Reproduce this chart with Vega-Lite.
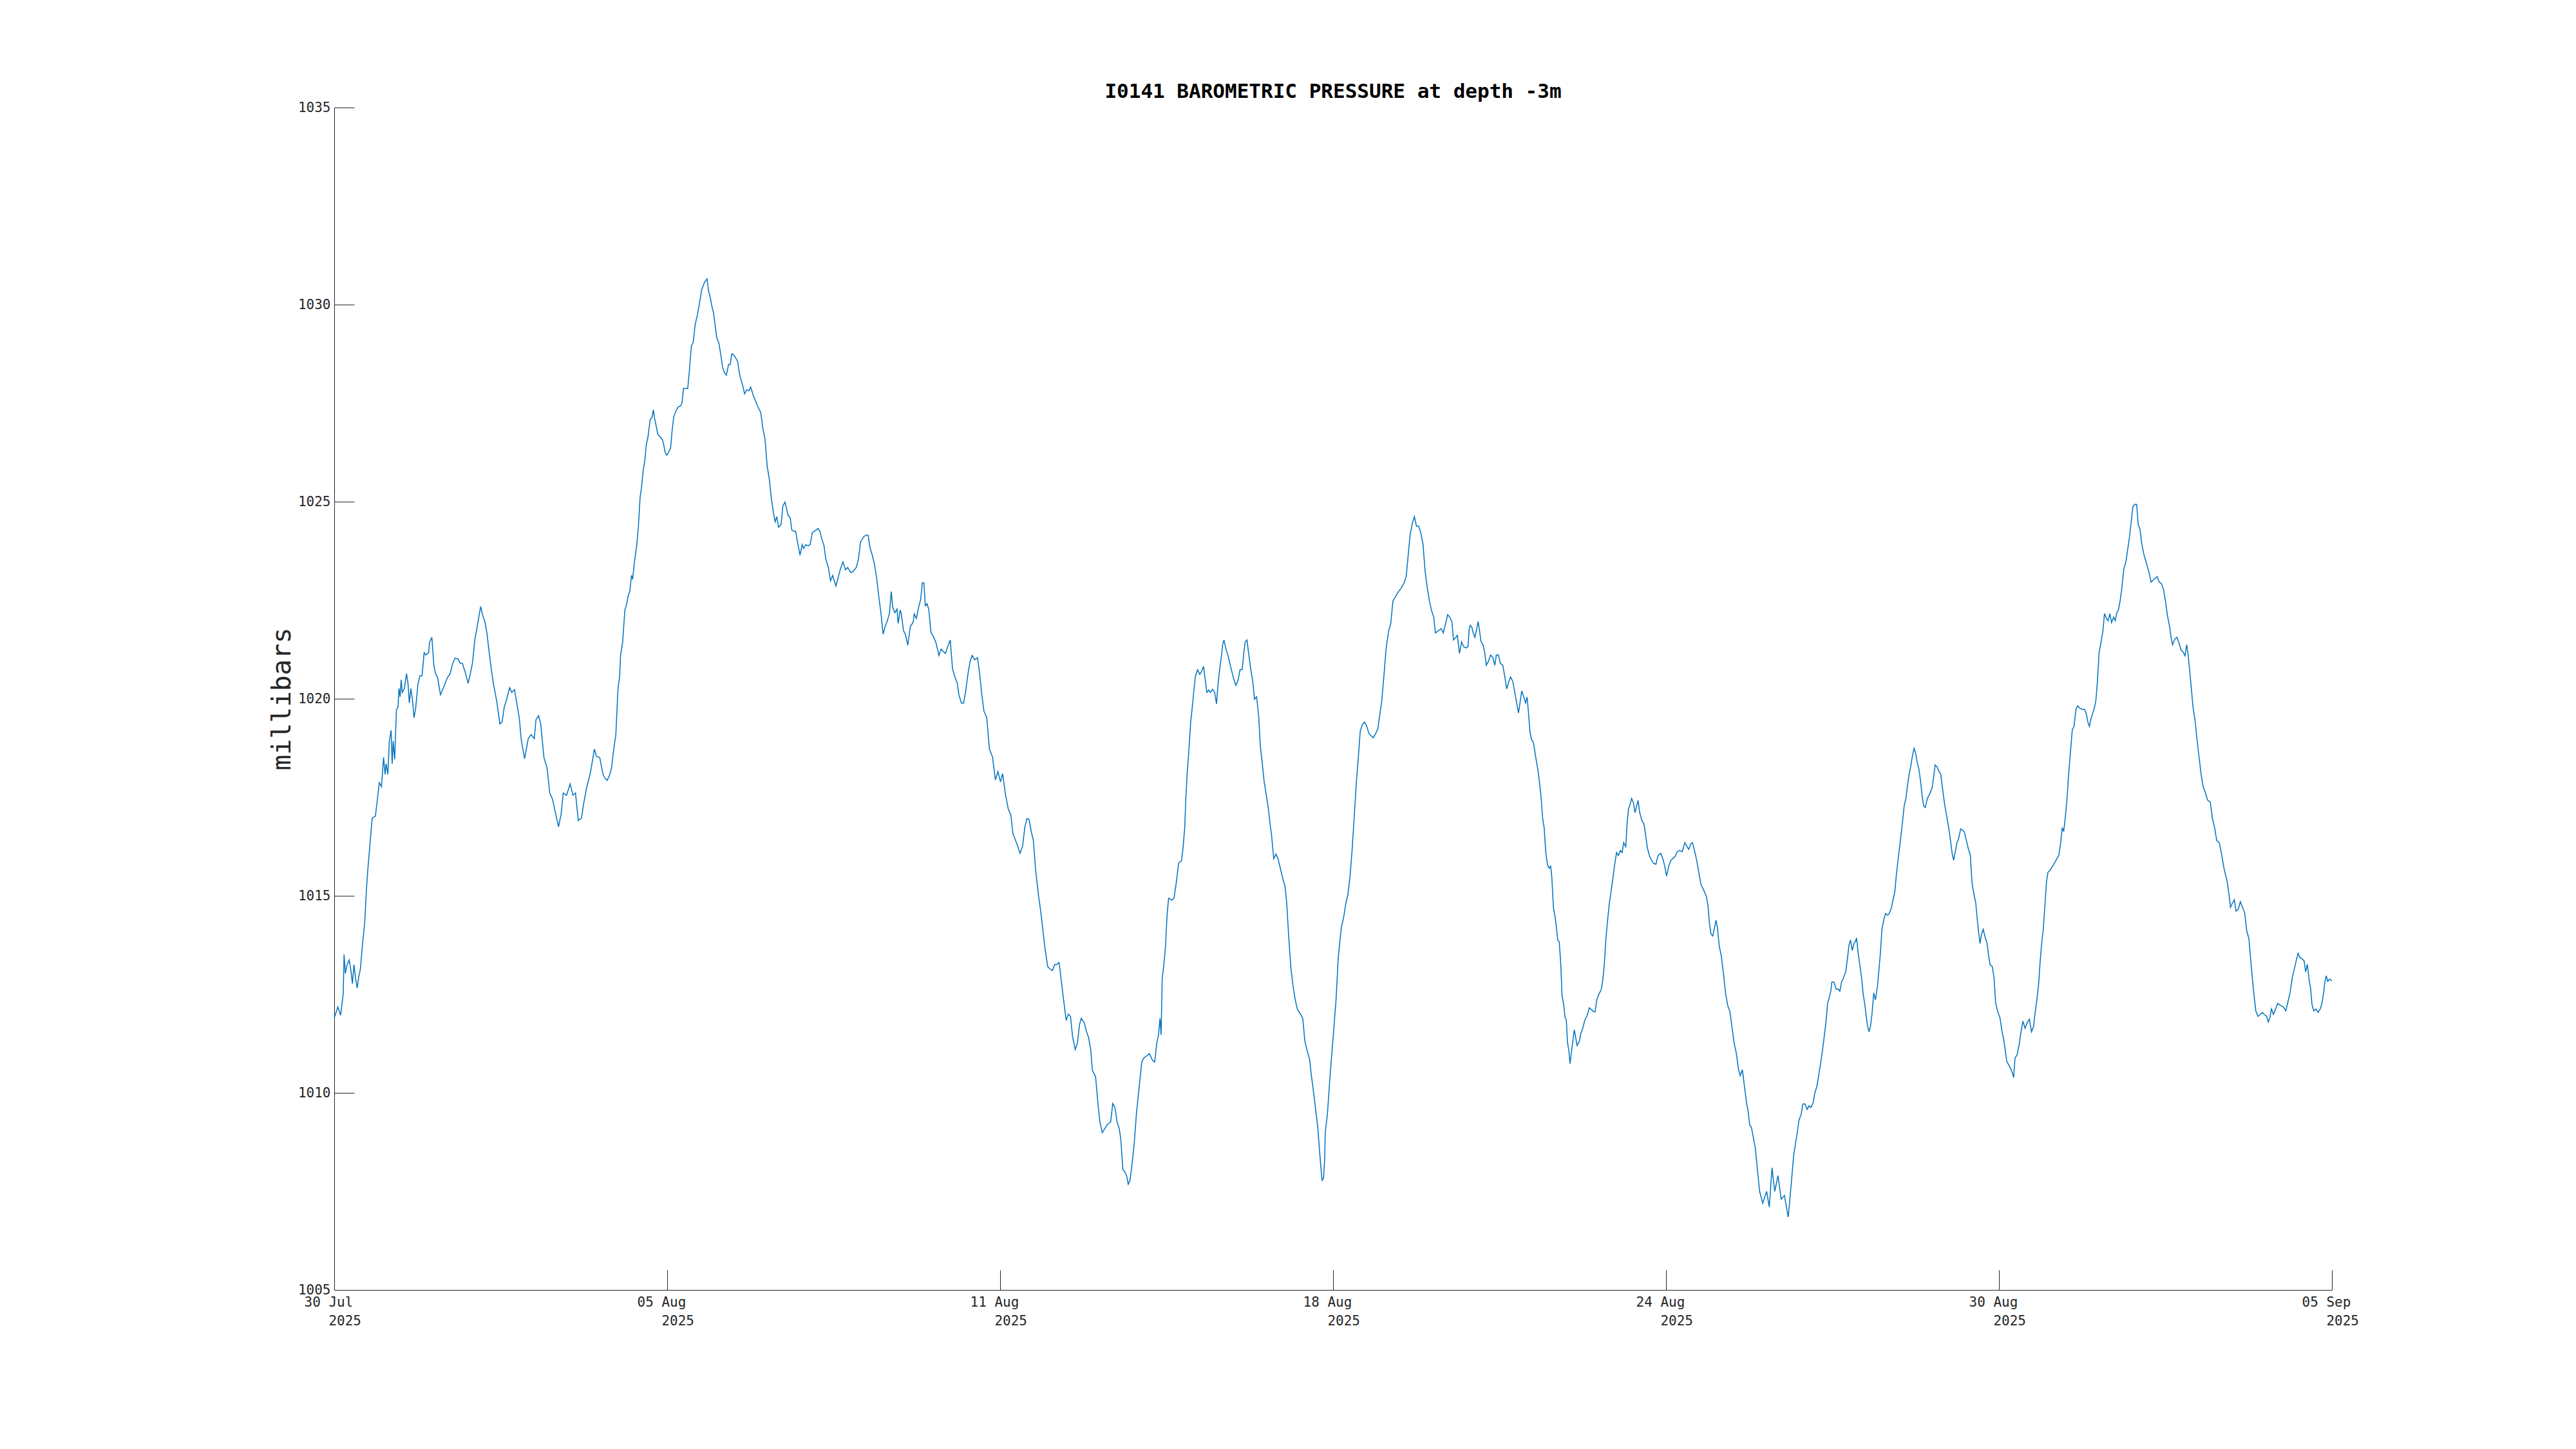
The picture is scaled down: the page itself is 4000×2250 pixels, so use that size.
{
 "$schema": "https://vega.github.io/schema/vega-lite/v6.json",
 "width": 3102,
 "height": 1836,
 "autosize": {"type": "none"},
 "padding": {"left": 519, "top": 167, "right": 379, "bottom": 247},
 "background": "white",
 "config": {"view": {"stroke": null}, "font": "DejaVu Sans Mono"},
 "title": {"text": "I0141 BAROMETRIC PRESSURE at depth -3m", "font": "DejaVu Sans Mono", "fontSize": 31, "fontWeight": "bold", "color": "#000000", "anchor": "middle", "frame": "group", "baseline": "alphabetic", "offset": -27},
 "data": {"values": [
{"t":"2025-07-30T00:00","p":1011.9},{"t":"2025-07-30T01:36","p":1012.18},{"t":"2025-07-30T02:51","p":1011.97},{"t":"2025-07-30T03:31","p":1012.29},{"t":"2025-07-30T03:59","p":1012.5},{"t":"2025-07-30T04:22","p":1013.51},{"t":"2025-07-30T04:57","p":1013.03},{"t":"2025-07-30T05:42","p":1013.25},{"t":"2025-07-30T06:40","p":1013.37},{"t":"2025-07-30T07:20","p":1013.14},{"t":"2025-07-30T08:05","p":1012.77},{"t":"2025-07-30T08:46","p":1013.25},{"t":"2025-07-30T09:26","p":1012.93},{"t":"2025-07-30T10:11","p":1012.66},{"t":"2025-07-30T10:52","p":1012.93},{"t":"2025-07-30T11:37","p":1013.14},{"t":"2025-07-30T12:35","p":1013.78},{"t":"2025-07-30T13:32","p":1014.31},{"t":"2025-07-30T14:18","p":1015.16},{"t":"2025-07-30T14:58","p":1015.69},{"t":"2025-07-30T15:55","p":1016.33},{"t":"2025-07-30T16:52","p":1016.97},{"t":"2025-07-30T18:18","p":1017.02},{"t":"2025-07-30T19:04","p":1017.39},{"t":"2025-07-30T20:01","p":1017.87},{"t":"2025-07-30T20:59","p":1017.77},{"t":"2025-07-30T21:56","p":1018.51},{"t":"2025-07-30T22:36","p":1018.08},{"t":"2025-07-30T23:04","p":1018.35},{"t":"2025-07-30T23:50","p":1018.08},
{"t":"2025-07-31T00:30","p":1018.93},{"t":"2025-07-31T01:16","p":1019.2},{"t":"2025-07-31T01:45","p":1018.35},{"t":"2025-07-31T02:13","p":1018.93},{"t":"2025-07-31T02:53","p":1018.46},{"t":"2025-07-31T03:39","p":1019.73},{"t":"2025-07-31T04:19","p":1019.78},{"t":"2025-07-31T04:48","p":1020.26},{"t":"2025-07-31T05:17","p":1020.05},{"t":"2025-07-31T05:45","p":1020.48},{"t":"2025-07-31T06:14","p":1020.16},{"t":"2025-07-31T07:11","p":1020.26},{"t":"2025-07-31T08:08","p":1020.64},{"t":"2025-07-31T08:49","p":1020.37},{"t":"2025-07-31T09:23","p":1019.89},{"t":"2025-07-31T10:03","p":1020.26},{"t":"2025-07-31T10:43","p":1020.0},{"t":"2025-07-31T11:29","p":1019.52},{"t":"2025-07-31T12:14","p":1019.78},{"t":"2025-07-31T13:12","p":1020.37},{"t":"2025-07-31T14:04","p":1020.58},{"t":"2025-07-31T15:01","p":1020.58},{"t":"2025-07-31T15:58","p":1021.17},{"t":"2025-07-31T16:44","p":1021.11},{"t":"2025-07-31T17:58","p":1021.17},{"t":"2025-07-31T18:21","p":1021.43},{"t":"2025-07-31T19:24","p":1021.56},{"t":"2025-07-31T20:16","p":1020.85},{"t":"2025-07-31T21:01","p":1020.64},{"t":"2025-07-31T21:59","p":1020.53},{"t":"2025-07-31T23:13","p":1020.1},
{"t":"2025-08-01T00:50","p":1020.32},{"t":"2025-08-01T02:16","p":1020.53},{"t":"2025-08-01T03:31","p":1020.64},{"t":"2025-08-01T04:40","p":1020.9},{"t":"2025-08-01T05:48","p":1021.03},{"t":"2025-08-01T07:02","p":1021.01},{"t":"2025-08-01T08:00","p":1020.9},{"t":"2025-08-01T08:57","p":1020.9},{"t":"2025-08-01T10:23","p":1020.64},{"t":"2025-08-01T11:32","p":1020.39},{"t":"2025-08-01T12:17","p":1020.58},{"t":"2025-08-01T13:26","p":1020.9},{"t":"2025-08-01T14:29","p":1021.49},{"t":"2025-08-01T15:38","p":1021.86},{"t":"2025-08-01T17:04","p":1022.34},{"t":"2025-08-01T18:13","p":1022.07},{"t":"2025-08-01T18:58","p":1021.96},{"t":"2025-08-01T19:56","p":1021.64},{"t":"2025-08-01T20:53","p":1021.17},{"t":"2025-08-01T21:50","p":1020.74},{"t":"2025-08-01T22:47","p":1020.37},
{"t":"2025-08-02T00:13","p":1019.94},{"t":"2025-08-02T01:39","p":1019.36},{"t":"2025-08-02T02:36","p":1019.41},{"t":"2025-08-02T03:34","p":1019.78},{"t":"2025-08-02T04:43","p":1020.0},{"t":"2025-08-02T05:57","p":1020.28},{"t":"2025-08-02T06:54","p":1020.16},{"t":"2025-08-02T08:08","p":1020.23},{"t":"2025-08-02T09:17","p":1019.84},{"t":"2025-08-02T10:14","p":1019.52},{"t":"2025-08-02T11:11","p":1018.93},{"t":"2025-08-02T12:37","p":1018.48},{"t":"2025-08-02T13:35","p":1018.78},{"t":"2025-08-02T14:15","p":1018.99},{"t":"2025-08-02T15:29","p":1019.09},{"t":"2025-08-02T16:55","p":1018.99},{"t":"2025-08-02T17:41","p":1019.47},{"t":"2025-08-02T18:50","p":1019.57},{"t":"2025-08-02T19:47","p":1019.36},{"t":"2025-08-02T21:13","p":1018.51},{"t":"2025-08-02T22:38","p":1018.24},{"t":"2025-08-02T23:47","p":1017.61},
{"t":"2025-08-03T01:02","p":1017.45},{"t":"2025-08-03T02:28","p":1017.07},{"t":"2025-08-03T03:42","p":1016.75},{"t":"2025-08-03T04:51","p":1017.07},{"t":"2025-08-03T05:48","p":1017.61},{"t":"2025-08-03T07:14","p":1017.55},{"t":"2025-08-03T08:52","p":1017.84},{"t":"2025-08-03T10:06","p":1017.55},{"t":"2025-08-03T11:14","p":1017.61},{"t":"2025-08-03T12:29","p":1016.91},{"t":"2025-08-03T13:55","p":1016.97},{"t":"2025-08-03T14:52","p":1017.34},{"t":"2025-08-03T16:18","p":1017.77},{"t":"2025-08-03T17:44","p":1018.08},{"t":"2025-08-03T19:38","p":1018.72},{"t":"2025-08-03T20:35","p":1018.54},{"t":"2025-08-03T22:01","p":1018.51},{"t":"2025-08-03T23:28","p":1018.08},
{"t":"2025-08-04T00:25","p":1017.98},{"t":"2025-08-04T01:22","p":1017.93},{"t":"2025-08-04T02:31","p":1018.08},{"t":"2025-08-04T03:16","p":1018.24},{"t":"2025-08-04T04:14","p":1018.72},{"t":"2025-08-04T05:11","p":1019.09},{"t":"2025-08-04T06:08","p":1020.26},{"t":"2025-08-04T06:53","p":1020.57},{"t":"2025-08-04T07:16","p":1021.1},{"t":"2025-08-04T08:13","p":1021.44},{"t":"2025-08-04T09:11","p":1022.25},{"t":"2025-08-04T09:56","p":1022.39},{"t":"2025-08-04T10:42","p":1022.62},{"t":"2025-08-04T11:22","p":1022.72},{"t":"2025-08-04T12:08","p":1023.13},{"t":"2025-08-04T12:37","p":1023.03},{"t":"2025-08-04T13:28","p":1023.47},{"t":"2025-08-04T14:25","p":1023.88},{"t":"2025-08-04T15:11","p":1024.35},{"t":"2025-08-04T15:57","p":1025.1},{"t":"2025-08-04T16:37","p":1025.37},{"t":"2025-08-04T17:17","p":1025.77},{"t":"2025-08-04T18:03","p":1026.04},{"t":"2025-08-04T18:43","p":1026.45},{"t":"2025-08-04T19:29","p":1026.65},{"t":"2025-08-04T20:26","p":1027.09},{"t":"2025-08-04T21:12","p":1027.13},{"t":"2025-08-04T21:52","p":1027.33},{"t":"2025-08-04T22:21","p":1027.13},{"t":"2025-08-04T23:07","p":1026.92},{"t":"2025-08-04T23:47","p":1026.72},
{"t":"2025-08-05T00:44","p":1026.65},{"t":"2025-08-05T01:41","p":1026.59},{"t":"2025-08-05T02:10","p":1026.52},{"t":"2025-08-05T03:07","p":1026.25},{"t":"2025-08-05T03:53","p":1026.18},{"t":"2025-08-05T04:33","p":1026.25},{"t":"2025-08-05T05:30","p":1026.35},{"t":"2025-08-05T06:10","p":1026.79},{"t":"2025-08-05T06:56","p":1027.16},{"t":"2025-08-05T07:53","p":1027.3},{"t":"2025-08-05T08:50","p":1027.4},{"t":"2025-08-05T09:59","p":1027.43},{"t":"2025-08-05T10:34","p":1027.5},{"t":"2025-08-05T11:14","p":1027.87},{"t":"2025-08-05T12:11","p":1027.87},{"t":"2025-08-05T13:08","p":1027.87},{"t":"2025-08-05T13:48","p":1028.28},{"t":"2025-08-05T14:46","p":1028.96},{"t":"2025-08-05T15:31","p":1029.03},{"t":"2025-08-05T16:28","p":1029.5},{"t":"2025-08-05T17:26","p":1029.74},{"t":"2025-08-05T18:23","p":1030.04},{"t":"2025-08-05T19:20","p":1030.38},{"t":"2025-08-05T20:29","p":1030.55},{"t":"2025-08-05T21:15","p":1030.62},{"t":"2025-08-05T21:43","p":1030.65},{"t":"2025-08-05T22:23","p":1030.35},{"t":"2025-08-05T23:10","p":1030.18},{"t":"2025-08-05T23:55","p":1029.94},
{"t":"2025-08-06T00:35","p":1029.8},{"t":"2025-08-06T01:16","p":1029.5},{"t":"2025-08-06T02:01","p":1029.16},{"t":"2025-08-06T02:58","p":1029.03},{"t":"2025-08-06T03:56","p":1028.69},{"t":"2025-08-06T04:36","p":1028.42},{"t":"2025-08-06T05:22","p":1028.28},{"t":"2025-08-06T06:19","p":1028.21},{"t":"2025-08-06T07:16","p":1028.48},{"t":"2025-08-06T08:02","p":1028.48},{"t":"2025-08-06T08:42","p":1028.75},{"t":"2025-08-06T09:39","p":1028.72},{"t":"2025-08-06T10:25","p":1028.65},{"t":"2025-08-06T11:22","p":1028.55},{"t":"2025-08-06T12:02","p":1028.28},{"t":"2025-08-06T12:43","p":1028.11},{"t":"2025-08-06T13:28","p":1027.97},{"t":"2025-08-06T14:25","p":1027.74},{"t":"2025-08-06T15:23","p":1027.84},{"t":"2025-08-06T16:20","p":1027.81},{"t":"2025-08-06T17:06","p":1027.91},{"t":"2025-08-06T18:14","p":1027.7},{"t":"2025-08-06T19:11","p":1027.57},{"t":"2025-08-06T20:09","p":1027.43},{"t":"2025-08-06T21:35","p":1027.26},{"t":"2025-08-06T22:32","p":1026.86},{"t":"2025-08-06T23:29","p":1026.59},
{"t":"2025-08-07T00:26","p":1025.91},{"t":"2025-08-07T01:24","p":1025.57},{"t":"2025-08-07T02:21","p":1025.06},{"t":"2025-08-07T03:19","p":1024.69},{"t":"2025-08-07T03:59","p":1024.49},{"t":"2025-08-07T04:44","p":1024.62},{"t":"2025-08-07T05:30","p":1024.35},{"t":"2025-08-07T06:39","p":1024.42},{"t":"2025-08-07T07:25","p":1024.89},{"t":"2025-08-07T08:22","p":1024.99},{"t":"2025-08-07T09:02","p":1024.83},{"t":"2025-08-07T09:42","p":1024.66},{"t":"2025-08-07T10:40","p":1024.59},{"t":"2025-08-07T11:25","p":1024.28},{"t":"2025-08-07T12:22","p":1024.25},{"t":"2025-08-07T13:08","p":1024.25},{"t":"2025-08-07T13:48","p":1024.01},{"t":"2025-08-07T14:17","p":1023.88},{"t":"2025-08-07T15:02","p":1023.64},{"t":"2025-08-07T16:00","p":1023.91},{"t":"2025-08-07T16:40","p":1023.81},{"t":"2025-08-07T17:37","p":1023.91},{"t":"2025-08-07T18:34","p":1023.88},{"t":"2025-08-07T19:32","p":1023.91},{"t":"2025-08-07T20:29","p":1024.21},{"t":"2025-08-07T21:26","p":1024.25},{"t":"2025-08-07T23:04","p":1024.32},{"t":"2025-08-07T23:49","p":1024.25},
{"t":"2025-08-08T00:47","p":1024.05},{"t":"2025-08-08T01:44","p":1023.88},{"t":"2025-08-08T02:30","p":1023.55},{"t":"2025-08-08T03:38","p":1023.33},{"t":"2025-08-08T04:36","p":1022.99},{"t":"2025-08-08T05:33","p":1023.13},{"t":"2025-08-08T06:59","p":1022.86},{"t":"2025-08-08T07:56","p":1023.06},{"t":"2025-08-08T08:53","p":1023.27},{"t":"2025-08-08T10:08","p":1023.47},{"t":"2025-08-08T11:17","p":1023.27},{"t":"2025-08-08T12:14","p":1023.33},{"t":"2025-08-08T13:40","p":1023.2},{"t":"2025-08-08T14:37","p":1023.23},{"t":"2025-08-08T16:03","p":1023.33},{"t":"2025-08-08T17:00","p":1023.54},{"t":"2025-08-08T17:58","p":1023.98},{"t":"2025-08-08T19:23","p":1024.11},{"t":"2025-08-08T20:20","p":1024.15},{"t":"2025-08-08T21:18","p":1024.15},{"t":"2025-08-08T22:15","p":1023.81},{"t":"2025-08-08T23:12","p":1023.64},
{"t":"2025-08-09T00:10","p":1023.4},{"t":"2025-08-09T01:07","p":1023.06},{"t":"2025-08-09T02:04","p":1022.59},{"t":"2025-08-09T03:01","p":1022.18},{"t":"2025-08-09T03:58","p":1021.64},{"t":"2025-08-09T04:56","p":1021.84},{"t":"2025-08-09T05:53","p":1021.98},{"t":"2025-08-09T06:50","p":1022.18},{"t":"2025-08-09T07:36","p":1022.72},{"t":"2025-08-09T08:16","p":1022.32},{"t":"2025-08-09T09:13","p":1022.18},{"t":"2025-08-09T10:11","p":1022.28},{"t":"2025-08-09T10:39","p":1021.91},{"t":"2025-08-09T11:37","p":1022.25},{"t":"2025-08-09T12:05","p":1022.15},{"t":"2025-08-09T13:02","p":1021.73},{"t":"2025-08-09T13:59","p":1021.62},{"t":"2025-08-09T14:57","p":1021.36},{"t":"2025-08-09T16:05","p":1021.83},{"t":"2025-08-09T17:20","p":1021.94},{"t":"2025-08-09T17:49","p":1022.15},{"t":"2025-08-09T18:46","p":1022.04},{"t":"2025-08-09T19:55","p":1022.36},{"t":"2025-08-09T20:40","p":1022.52},{"t":"2025-08-09T21:26","p":1022.94},{"t":"2025-08-09T22:06","p":1022.94},{"t":"2025-08-09T22:46","p":1022.36},{"t":"2025-08-09T23:32","p":1022.41},
{"t":"2025-08-10T00:18","p":1022.26},{"t":"2025-08-10T01:15","p":1021.68},{"t":"2025-08-10T02:24","p":1021.57},{"t":"2025-08-10T03:32","p":1021.41},{"t":"2025-08-10T04:47","p":1021.1},{"t":"2025-08-10T05:44","p":1021.26},{"t":"2025-08-10T06:41","p":1021.2},{"t":"2025-08-10T07:39","p":1021.15},{"t":"2025-08-10T08:36","p":1021.31},{"t":"2025-08-10T09:50","p":1021.49},{"t":"2025-08-10T10:48","p":1020.78},{"t":"2025-08-10T11:45","p":1020.57},{"t":"2025-08-10T12:53","p":1020.41},{"t":"2025-08-10T13:40","p":1020.1},{"t":"2025-08-10T14:48","p":1019.89},{"t":"2025-08-10T15:46","p":1019.89},{"t":"2025-08-10T16:43","p":1020.2},{"t":"2025-08-10T17:40","p":1020.62},{"t":"2025-08-10T18:37","p":1020.94},{"t":"2025-08-10T19:34","p":1021.1},{"t":"2025-08-10T20:43","p":1020.99},{"t":"2025-08-10T21:58","p":1021.04},{"t":"2025-08-10T22:55","p":1020.62},{"t":"2025-08-10T23:52","p":1020.1},
{"t":"2025-08-11T00:49","p":1019.68},{"t":"2025-08-11T02:04","p":1019.52},{"t":"2025-08-11T03:13","p":1018.73},{"t":"2025-08-11T04:38","p":1018.52},{"t":"2025-08-11T05:53","p":1017.94},{"t":"2025-08-11T07:02","p":1018.15},{"t":"2025-08-11T08:10","p":1017.89},{"t":"2025-08-11T09:07","p":1018.1},{"t":"2025-08-11T10:22","p":1017.57},{"t":"2025-08-11T11:37","p":1017.2},{"t":"2025-08-11T12:45","p":1017.05},{"t":"2025-08-11T13:43","p":1016.57},{"t":"2025-08-11T14:51","p":1016.41},{"t":"2025-08-11T15:49","p":1016.26},{"t":"2025-08-11T16:51","p":1016.08},{"t":"2025-08-11T18:00","p":1016.26},{"t":"2025-08-11T18:57","p":1016.73},{"t":"2025-08-11T19:55","p":1016.96},{"t":"2025-08-11T20:52","p":1016.94},{"t":"2025-08-11T21:49","p":1016.63},{"t":"2025-08-11T22:46","p":1016.41},{"t":"2025-08-11T23:44","p":1015.68},
{"t":"2025-08-12T00:58","p":1015.05},{"t":"2025-08-12T02:07","p":1014.57},{"t":"2025-08-12T03:04","p":1014.1},{"t":"2025-08-12T04:01","p":1013.63},{"t":"2025-08-12T05:10","p":1013.2},{"t":"2025-08-12T06:07","p":1013.15},{"t":"2025-08-12T07:10","p":1013.1},{"t":"2025-08-12T08:19","p":1013.26},{"t":"2025-08-12T09:16","p":1013.26},{"t":"2025-08-12T10:13","p":1013.31},{"t":"2025-08-12T11:11","p":1012.84},{"t":"2025-08-12T12:19","p":1012.31},{"t":"2025-08-12T13:22","p":1011.84},{"t":"2025-08-12T14:20","p":1012.0},{"t":"2025-08-12T15:17","p":1011.94},{"t":"2025-08-12T16:14","p":1011.41},{"t":"2025-08-12T17:23","p":1011.1},{"t":"2025-08-12T18:20","p":1011.26},{"t":"2025-08-12T19:17","p":1011.73},{"t":"2025-08-12T20:03","p":1011.89},{"t":"2025-08-12T21:23","p":1011.78},{"t":"2025-08-12T22:20","p":1011.57},{"t":"2025-08-12T23:18","p":1011.41},
{"t":"2025-08-13T00:15","p":1011.1},{"t":"2025-08-13T01:01","p":1010.57},{"t":"2025-08-13T02:26","p":1010.41},{"t":"2025-08-13T03:24","p":1009.78},{"t":"2025-08-13T04:21","p":1009.26},{"t":"2025-08-13T05:24","p":1008.99},{"t":"2025-08-13T06:33","p":1009.1},{"t":"2025-08-13T07:41","p":1009.2},{"t":"2025-08-13T09:07","p":1009.26},{"t":"2025-08-13T10:05","p":1009.73},{"t":"2025-08-13T11:02","p":1009.63},{"t":"2025-08-13T11:59","p":1009.26},{"t":"2025-08-13T12:56","p":1009.1},{"t":"2025-08-13T13:37","p":1008.84},{"t":"2025-08-13T14:34","p":1008.05},{"t":"2025-08-13T15:31","p":1007.99},{"t":"2025-08-13T16:17","p":1007.89},{"t":"2025-08-13T16:57","p":1007.68},{"t":"2025-08-13T17:43","p":1007.78},{"t":"2025-08-13T18:40","p":1008.2},{"t":"2025-08-13T19:37","p":1008.73},{"t":"2025-08-13T20:35","p":1009.47},{"t":"2025-08-13T21:43","p":1010.1},{"t":"2025-08-13T22:58","p":1010.78},{"t":"2025-08-13T23:55","p":1010.89},
{"t":"2025-08-14T01:21","p":1010.94},{"t":"2025-08-14T02:18","p":1011.0},{"t":"2025-08-14T03:44","p":1010.83},{"t":"2025-08-14T04:41","p":1010.78},{"t":"2025-08-14T05:38","p":1011.26},{"t":"2025-08-14T06:24","p":1011.47},{"t":"2025-08-14T07:04","p":1011.89},{"t":"2025-08-14T07:33","p":1011.47},{"t":"2025-08-14T08:02","p":1012.89},{"t":"2025-08-14T08:41","p":1013.2},{"t":"2025-08-14T09:28","p":1013.68},{"t":"2025-08-14T10:13","p":1014.52},{"t":"2025-08-14T10:53","p":1014.94},{"t":"2025-08-14T12:19","p":1014.89},{"t":"2025-08-14T13:17","p":1014.94},{"t":"2025-08-14T14:14","p":1015.31},{"t":"2025-08-14T15:22","p":1015.83},{"t":"2025-08-14T16:37","p":1015.89},{"t":"2025-08-14T17:17","p":1016.2},{"t":"2025-08-14T18:03","p":1016.73},{"t":"2025-08-14T18:31","p":1017.44},{"t":"2025-08-14T19:11","p":1018.14},{"t":"2025-08-14T19:56","p":1018.72},{"t":"2025-08-14T20:42","p":1019.41},{"t":"2025-08-14T21:22","p":1019.76},{"t":"2025-08-14T22:02","p":1020.16},{"t":"2025-08-14T22:48","p":1020.57},{"t":"2025-08-14T23:46","p":1020.74},
{"t":"2025-08-15T00:43","p":1020.62},{"t":"2025-08-15T01:29","p":1020.68},{"t":"2025-08-15T02:26","p":1020.82},{"t":"2025-08-15T03:06","p":1020.51},{"t":"2025-08-15T03:52","p":1020.16},{"t":"2025-08-15T04:43","p":1020.22},{"t":"2025-08-15T05:29","p":1020.16},{"t":"2025-08-15T06:26","p":1020.24},{"t":"2025-08-15T07:23","p":1020.16},{"t":"2025-08-15T08:10","p":1019.87},{"t":"2025-08-15T08:49","p":1020.34},{"t":"2025-08-15T09:35","p":1020.74},{"t":"2025-08-15T10:16","p":1021.03},{"t":"2025-08-15T10:56","p":1021.38},{"t":"2025-08-15T11:30","p":1021.49},{"t":"2025-08-15T12:22","p":1021.26},{"t":"2025-08-15T13:19","p":1021.09},{"t":"2025-08-15T14:16","p":1020.86},{"t":"2025-08-15T15:30","p":1020.57},{"t":"2025-08-15T16:44","p":1020.34},{"t":"2025-08-15T17:42","p":1020.45},{"t":"2025-08-15T18:39","p":1020.74},{"t":"2025-08-15T19:37","p":1020.74},{"t":"2025-08-15T20:17","p":1021.15},{"t":"2025-08-15T20:56","p":1021.44},{"t":"2025-08-15T21:43","p":1021.49},{"t":"2025-08-15T22:28","p":1021.15},{"t":"2025-08-15T23:26","p":1020.74},
{"t":"2025-08-16T00:23","p":1020.4},{"t":"2025-08-16T01:03","p":1019.99},{"t":"2025-08-16T02:00","p":1020.05},{"t":"2025-08-16T02:58","p":1019.53},{"t":"2025-08-16T03:37","p":1018.83},{"t":"2025-08-16T04:23","p":1018.43},{"t":"2025-08-16T05:20","p":1017.91},{"t":"2025-08-16T06:18","p":1017.56},{"t":"2025-08-16T07:15","p":1017.21},{"t":"2025-08-16T08:01","p":1016.81},{"t":"2025-08-16T08:41","p":1016.52},{"t":"2025-08-16T09:38","p":1015.94},{"t":"2025-08-16T10:35","p":1016.06},{"t":"2025-08-16T11:32","p":1015.94},{"t":"2025-08-16T12:30","p":1015.71},{"t":"2025-08-16T13:27","p":1015.48},{"t":"2025-08-16T14:36","p":1015.25},{"t":"2025-08-16T15:22","p":1014.84},{"t":"2025-08-16T16:19","p":1013.92},{"t":"2025-08-16T17:16","p":1013.16},{"t":"2025-08-16T18:13","p":1012.7},{"t":"2025-08-16T19:11","p":1012.36},{"t":"2025-08-16T20:08","p":1012.12},{"t":"2025-08-16T21:22","p":1012.01},{"t":"2025-08-16T22:31","p":1011.89},{"t":"2025-08-16T23:28","p":1011.31},
{"t":"2025-08-17T00:26","p":1011.08},{"t":"2025-08-17T01:34","p":1010.85},{"t":"2025-08-17T02:20","p":1010.45},{"t":"2025-08-17T03:17","p":1010.04},{"t":"2025-08-17T04:14","p":1009.58},{"t":"2025-08-17T05:12","p":1009.12},{"t":"2025-08-17T05:58","p":1008.54},{"t":"2025-08-17T06:38","p":1008.07},{"t":"2025-08-17T07:07","p":1007.78},{"t":"2025-08-17T07:46","p":1007.84},{"t":"2025-08-17T08:15","p":1008.31},{"t":"2025-08-17T08:32","p":1009.0},{"t":"2025-08-17T09:29","p":1009.46},{"t":"2025-08-17T10:27","p":1010.27},{"t":"2025-08-17T11:24","p":1010.97},{"t":"2025-08-17T12:22","p":1011.66},{"t":"2025-08-17T13:19","p":1012.36},{"t":"2025-08-17T14:16","p":1013.4},{"t":"2025-08-17T14:56","p":1013.8},{"t":"2025-08-17T15:42","p":1014.21},{"t":"2025-08-17T16:39","p":1014.44},{"t":"2025-08-17T17:36","p":1014.78},{"t":"2025-08-17T18:34","p":1015.02},{"t":"2025-08-17T19:31","p":1015.48},{"t":"2025-08-17T20:28","p":1016.17},{"t":"2025-08-17T21:37","p":1017.21},{"t":"2025-08-17T22:23","p":1017.91},{"t":"2025-08-17T23:20","p":1018.6},
{"t":"2025-08-18T00:05","p":1019.18},{"t":"2025-08-18T01:03","p":1019.35},{"t":"2025-08-18T02:00","p":1019.41},{"t":"2025-08-18T02:58","p":1019.3},{"t":"2025-08-18T03:55","p":1019.12},{"t":"2025-08-18T04:52","p":1019.06},{"t":"2025-08-18T05:49","p":1019.01},{"t":"2025-08-18T06:58","p":1019.12},{"t":"2025-08-18T07:55","p":1019.24},{"t":"2025-08-18T08:52","p":1019.64},{"t":"2025-08-18T09:38","p":1019.93},{"t":"2025-08-18T10:35","p":1020.57},{"t":"2025-08-18T11:33","p":1021.26},{"t":"2025-08-18T12:41","p":1021.72},{"t":"2025-08-18T13:38","p":1021.9},{"t":"2025-08-18T14:36","p":1022.48},{"t":"2025-08-18T15:44","p":1022.59},{"t":"2025-08-18T16:59","p":1022.71},{"t":"2025-08-18T18:25","p":1022.82},{"t":"2025-08-18T19:34","p":1022.94},{"t":"2025-08-18T20:31","p":1023.11},{"t":"2025-08-18T21:17","p":1023.58},{"t":"2025-08-18T22:14","p":1024.15},{"t":"2025-08-18T23:11","p":1024.44},
{"t":"2025-08-19T00:08","p":1024.62},{"t":"2025-08-19T01:05","p":1024.38},{"t":"2025-08-19T02:03","p":1024.38},{"t":"2025-08-19T03:00","p":1024.21},{"t":"2025-08-19T03:58","p":1023.92},{"t":"2025-08-19T04:55","p":1023.23},{"t":"2025-08-19T05:52","p":1022.82},{"t":"2025-08-19T06:49","p":1022.48},{"t":"2025-08-19T07:46","p":1022.24},{"t":"2025-08-19T08:44","p":1022.07},{"t":"2025-08-19T09:29","p":1021.67},{"t":"2025-08-19T10:38","p":1021.72},{"t":"2025-08-19T12:04","p":1021.78},{"t":"2025-08-19T13:01","p":1021.67},{"t":"2025-08-19T13:59","p":1021.9},{"t":"2025-08-19T14:56","p":1022.13},{"t":"2025-08-19T15:53","p":1022.07},{"t":"2025-08-19T16:50","p":1021.95},{"t":"2025-08-19T17:31","p":1021.49},{"t":"2025-08-19T18:28","p":1021.55},{"t":"2025-08-19T19:14","p":1021.61},{"t":"2025-08-19T20:11","p":1021.15},{"t":"2025-08-19T21:08","p":1021.44},{"t":"2025-08-19T22:05","p":1021.32},{"t":"2025-08-19T23:02","p":1021.29},
{"t":"2025-08-20T00:00","p":1021.32},{"t":"2025-08-20T00:28","p":1021.76},{"t":"2025-08-20T00:56","p":1021.86},{"t":"2025-08-20T01:42","p":1021.81},{"t":"2025-08-20T02:22","p":1021.66},{"t":"2025-08-20T03:02","p":1021.56},{"t":"2025-08-20T03:48","p":1021.76},{"t":"2025-08-20T04:28","p":1021.96},{"t":"2025-08-20T05:02","p":1021.76},{"t":"2025-08-20T05:43","p":1021.46},{"t":"2025-08-20T06:40","p":1021.36},{"t":"2025-08-20T07:26","p":1021.16},{"t":"2025-08-20T08:05","p":1020.85},{"t":"2025-08-20T09:03","p":1020.95},{"t":"2025-08-20T10:00","p":1021.11},{"t":"2025-08-20T10:58","p":1021.05},{"t":"2025-08-20T11:55","p":1020.85},{"t":"2025-08-20T12:35","p":1021.11},{"t":"2025-08-20T13:32","p":1021.11},{"t":"2025-08-20T14:18","p":1020.9},{"t":"2025-08-20T15:26","p":1020.85},{"t":"2025-08-20T16:13","p":1020.6},{"t":"2025-08-20T17:10","p":1020.25},{"t":"2025-08-20T17:55","p":1020.4},{"t":"2025-08-20T18:53","p":1020.55},{"t":"2025-08-20T19:50","p":1020.45},{"t":"2025-08-20T20:30","p":1020.25},{"t":"2025-08-20T21:27","p":1019.94},{"t":"2025-08-20T22:25","p":1019.64},{"t":"2025-08-20T23:05","p":1019.89},{"t":"2025-08-20T23:50","p":1020.2},
{"t":"2025-08-21T00:47","p":1020.04},{"t":"2025-08-21T01:34","p":1019.89},{"t":"2025-08-21T02:14","p":1020.04},{"t":"2025-08-21T02:53","p":1019.64},{"t":"2025-08-21T03:28","p":1019.18},{"t":"2025-08-21T04:08","p":1018.98},{"t":"2025-08-21T05:05","p":1018.88},{"t":"2025-08-21T06:02","p":1018.53},{"t":"2025-08-21T07:00","p":1018.21},{"t":"2025-08-21T07:40","p":1017.92},{"t":"2025-08-21T08:26","p":1017.52},{"t":"2025-08-21T09:11","p":1016.96},{"t":"2025-08-21T09:52","p":1016.71},{"t":"2025-08-21T10:32","p":1016.1},{"t":"2025-08-21T11:17","p":1015.8},{"t":"2025-08-21T12:04","p":1015.7},{"t":"2025-08-21T12:43","p":1015.75},{"t":"2025-08-21T13:12","p":1015.5},{"t":"2025-08-21T13:58","p":1014.69},{"t":"2025-08-21T14:38","p":1014.48},{"t":"2025-08-21T15:07","p":1014.28},{"t":"2025-08-21T15:52","p":1013.88},{"t":"2025-08-21T16:32","p":1013.83},{"t":"2025-08-21T17:13","p":1013.27},{"t":"2025-08-21T17:47","p":1012.46},{"t":"2025-08-21T18:27","p":1012.26},{"t":"2025-08-21T19:07","p":1011.91},{"t":"2025-08-21T19:41","p":1011.86},{"t":"2025-08-21T20:10","p":1011.3},{"t":"2025-08-21T20:50","p":1011.05},{"t":"2025-08-21T21:19","p":1010.74},{"t":"2025-08-21T21:59","p":1011.05},{"t":"2025-08-21T22:33","p":1011.3},{"t":"2025-08-21T23:13","p":1011.6},{"t":"2025-08-21T23:42","p":1011.45},
{"t":"2025-08-22T00:28","p":1011.2},{"t":"2025-08-22T01:25","p":1011.3},{"t":"2025-08-22T02:05","p":1011.5},{"t":"2025-08-22T03:02","p":1011.65},{"t":"2025-08-22T03:59","p":1011.86},{"t":"2025-08-22T04:57","p":1011.96},{"t":"2025-08-22T05:54","p":1012.16},{"t":"2025-08-22T06:51","p":1012.11},{"t":"2025-08-22T07:49","p":1012.06},{"t":"2025-08-22T08:29","p":1012.06},{"t":"2025-08-22T09:14","p":1012.36},{"t":"2025-08-22T10:11","p":1012.51},{"t":"2025-08-22T11:09","p":1012.61},{"t":"2025-08-22T11:55","p":1012.87},{"t":"2025-08-22T12:35","p":1013.27},{"t":"2025-08-22T13:15","p":1013.88},{"t":"2025-08-22T14:01","p":1014.38},{"t":"2025-08-22T14:46","p":1014.79},{"t":"2025-08-22T15:32","p":1015.09},{"t":"2025-08-22T16:24","p":1015.45},{"t":"2025-08-22T17:04","p":1015.75},{"t":"2025-08-22T18:01","p":1016.1},{"t":"2025-08-22T18:47","p":1016.02},{"t":"2025-08-22T19:44","p":1016.15},{"t":"2025-08-22T20:30","p":1016.1},{"t":"2025-08-22T21:10","p":1016.35},{"t":"2025-08-22T22:07","p":1016.25},{"t":"2025-08-22T22:47","p":1016.91},{"t":"2025-08-22T23:22","p":1017.21},
{"t":"2025-08-23T00:02","p":1017.32},{"t":"2025-08-23T00:42","p":1017.47},{"t":"2025-08-23T01:28","p":1017.37},{"t":"2025-08-23T02:13","p":1017.11},{"t":"2025-08-23T02:53","p":1017.26},{"t":"2025-08-23T03:34","p":1017.42},{"t":"2025-08-23T04:19","p":1017.11},{"t":"2025-08-23T05:17","p":1016.91},{"t":"2025-08-23T06:14","p":1016.81},{"t":"2025-08-23T06:59","p":1016.51},{"t":"2025-08-23T07:46","p":1016.2},{"t":"2025-08-23T08:43","p":1016.0},{"t":"2025-08-23T09:34","p":1015.9},{"t":"2025-08-23T10:31","p":1015.82},{"t":"2025-08-23T11:29","p":1015.8},{"t":"2025-08-23T12:26","p":1016.02},{"t":"2025-08-23T13:41","p":1016.08},{"t":"2025-08-23T14:49","p":1015.9},{"t":"2025-08-23T15:35","p":1015.7},{"t":"2025-08-23T16:15","p":1015.5},{"t":"2025-08-23T17:13","p":1015.75},{"t":"2025-08-23T18:10","p":1015.9},{"t":"2025-08-23T19:07","p":1015.95},{"t":"2025-08-23T20:04","p":1016.0},{"t":"2025-08-23T21:01","p":1016.12},{"t":"2025-08-23T21:59","p":1016.15},{"t":"2025-08-23T23:13","p":1016.12},
{"t":"2025-08-24T00:22","p":1016.35},{"t":"2025-08-24T01:19","p":1016.25},{"t":"2025-08-24T02:05","p":1016.18},{"t":"2025-08-24T03:02","p":1016.32},{"t":"2025-08-24T03:42","p":1016.35},{"t":"2025-08-24T04:40","p":1016.15},{"t":"2025-08-24T05:37","p":1015.9},{"t":"2025-08-24T06:34","p":1015.6},{"t":"2025-08-24T07:31","p":1015.29},{"t":"2025-08-24T08:46","p":1015.14},{"t":"2025-08-24T09:55","p":1014.99},{"t":"2025-08-24T10:40","p":1014.74},{"t":"2025-08-24T11:20","p":1014.28},{"t":"2025-08-24T12:01","p":1014.03},{"t":"2025-08-24T12:46","p":1013.98},{"t":"2025-08-24T13:32","p":1014.18},{"t":"2025-08-24T14:12","p":1014.38},{"t":"2025-08-24T14:52","p":1014.18},{"t":"2025-08-24T15:38","p":1013.73},{"t":"2025-08-24T16:35","p":1013.47},{"t":"2025-08-24T17:32","p":1013.02},{"t":"2025-08-24T18:30","p":1012.51},{"t":"2025-08-24T19:27","p":1012.21},{"t":"2025-08-24T20:25","p":1012.06},{"t":"2025-08-24T21:22","p":1011.65},{"t":"2025-08-24T22:19","p":1011.25},{"t":"2025-08-24T23:16","p":1011.0},
{"t":"2025-08-25T00:13","p":1010.59},{"t":"2025-08-25T00:59","p":1010.44},{"t":"2025-08-25T01:56","p":1010.59},{"t":"2025-08-25T02:54","p":1010.14},{"t":"2025-08-25T03:51","p":1009.73},{"t":"2025-08-25T04:31","p":1009.53},{"t":"2025-08-25T05:11","p":1009.18},{"t":"2025-08-25T05:57","p":1009.13},{"t":"2025-08-25T07:41","p":1008.6},{"t":"2025-08-25T09:36","p":1007.5},{"t":"2025-08-25T11:00","p":1007.2},{"t":"2025-08-25T12:43","p":1007.5},{"t":"2025-08-25T13:55","p":1007.1},{"t":"2025-08-25T15:07","p":1008.1},{"t":"2025-08-25T16:19","p":1007.5},{"t":"2025-08-25T17:46","p":1007.9},{"t":"2025-08-25T19:12","p":1007.3},{"t":"2025-08-25T20:38","p":1007.4},{"t":"2025-08-25T22:19","p":1006.85},{"t":"2025-08-25T23:31","p":1007.6},
{"t":"2025-08-26T00:43","p":1008.4},{"t":"2025-08-26T02:27","p":1009.04},{"t":"2025-08-26T03:07","p":1009.31},{"t":"2025-08-26T04:04","p":1009.45},{"t":"2025-08-26T04:50","p":1009.72},{"t":"2025-08-26T05:47","p":1009.72},{"t":"2025-08-26T06:44","p":1009.58},{"t":"2025-08-26T07:31","p":1009.67},{"t":"2025-08-26T08:28","p":1009.63},{"t":"2025-08-26T09:25","p":1009.76},{"t":"2025-08-26T10:05","p":1009.98},{"t":"2025-08-26T11:02","p":1010.16},{"t":"2025-08-26T11:59","p":1010.48},{"t":"2025-08-26T12:57","p":1010.84},{"t":"2025-08-26T13:37","p":1011.11},{"t":"2025-08-26T14:23","p":1011.46},{"t":"2025-08-26T15:08","p":1011.82},{"t":"2025-08-26T15:49","p":1012.27},{"t":"2025-08-26T16:29","p":1012.4},{"t":"2025-08-26T17:14","p":1012.58},{"t":"2025-08-26T17:43","p":1012.81},{"t":"2025-08-26T18:40","p":1012.81},{"t":"2025-08-26T19:38","p":1012.63},{"t":"2025-08-26T20:35","p":1012.63},{"t":"2025-08-26T21:15","p":1012.58},{"t":"2025-08-26T22:01","p":1012.81},{"t":"2025-08-26T22:46","p":1012.9},{"t":"2025-08-26T23:55","p":1013.08},
{"t":"2025-08-27T00:41","p":1013.43},{"t":"2025-08-27T01:21","p":1013.75},{"t":"2025-08-27T02:01","p":1013.88},{"t":"2025-08-27T02:47","p":1013.61},{"t":"2025-08-27T03:32","p":1013.79},{"t":"2025-08-27T04:13","p":1013.84},{"t":"2025-08-27T04:41","p":1013.93},{"t":"2025-08-27T05:28","p":1013.52},{"t":"2025-08-27T06:07","p":1013.26},{"t":"2025-08-27T07:05","p":1012.85},{"t":"2025-08-27T07:34","p":1012.54},{"t":"2025-08-27T08:31","p":1012.18},{"t":"2025-08-27T09:28","p":1011.73},{"t":"2025-08-27T10:14","p":1011.55},{"t":"2025-08-27T10:53","p":1011.69},{"t":"2025-08-27T11:34","p":1012.0},{"t":"2025-08-27T12:20","p":1012.54},{"t":"2025-08-27T13:05","p":1012.36},{"t":"2025-08-27T14:02","p":1012.72},{"t":"2025-08-27T14:43","p":1013.17},{"t":"2025-08-27T15:23","p":1013.61},{"t":"2025-08-27T15:57","p":1014.15},{"t":"2025-08-27T16:55","p":1014.42},{"t":"2025-08-27T17:34","p":1014.55},{"t":"2025-08-27T18:32","p":1014.51},{"t":"2025-08-27T19:12","p":1014.55},{"t":"2025-08-27T20:09","p":1014.69},{"t":"2025-08-27T20:55","p":1014.91},{"t":"2025-08-27T21:41","p":1015.09},{"t":"2025-08-27T22:20","p":1015.5},{"t":"2025-08-27T23:01","p":1015.85},{"t":"2025-08-27T23:47","p":1016.21},
{"t":"2025-08-28T00:32","p":1016.57},{"t":"2025-08-28T01:13","p":1016.93},{"t":"2025-08-28T01:53","p":1017.29},{"t":"2025-08-28T02:38","p":1017.47},{"t":"2025-08-28T03:24","p":1017.83},{"t":"2025-08-28T04:04","p":1018.09},{"t":"2025-08-28T04:44","p":1018.27},{"t":"2025-08-28T05:30","p":1018.54},{"t":"2025-08-28T06:16","p":1018.74},{"t":"2025-08-28T06:56","p":1018.63},{"t":"2025-08-28T07:36","p":1018.41},{"t":"2025-08-28T08:22","p":1018.23},{"t":"2025-08-28T09:08","p":1017.92},{"t":"2025-08-28T09:48","p":1017.56},{"t":"2025-08-28T10:28","p":1017.29},{"t":"2025-08-28T11:14","p":1017.24},{"t":"2025-08-28T12:11","p":1017.47},{"t":"2025-08-28T13:20","p":1017.6},{"t":"2025-08-28T14:17","p":1017.74},{"t":"2025-08-28T15:03","p":1018.05},{"t":"2025-08-28T15:37","p":1018.32},{"t":"2025-08-28T16:29","p":1018.27},{"t":"2025-08-28T17:26","p":1018.14},{"t":"2025-08-28T18:06","p":1018.09},{"t":"2025-08-28T18:52","p":1017.74},{"t":"2025-08-28T19:49","p":1017.33},{"t":"2025-08-28T20:46","p":1017.02},{"t":"2025-08-28T21:44","p":1016.7},{"t":"2025-08-28T22:29","p":1016.39},{"t":"2025-08-28T23:10","p":1016.08},{"t":"2025-08-28T23:50","p":1015.9},
{"t":"2025-08-29T00:35","p":1016.12},{"t":"2025-08-29T01:21","p":1016.35},{"t":"2025-08-29T02:01","p":1016.44},{"t":"2025-08-29T02:59","p":1016.7},{"t":"2025-08-29T03:56","p":1016.66},{"t":"2025-08-29T04:36","p":1016.62},{"t":"2025-08-29T05:22","p":1016.44},{"t":"2025-08-29T06:19","p":1016.21},{"t":"2025-08-29T07:16","p":1016.03},{"t":"2025-08-29T08:02","p":1015.32},{"t":"2025-08-29T08:42","p":1015.09},{"t":"2025-08-29T09:40","p":1014.82},{"t":"2025-08-29T10:19","p":1014.42},{"t":"2025-08-29T10:53","p":1014.11},{"t":"2025-08-29T11:34","p":1013.79},{"t":"2025-08-29T12:14","p":1014.02},{"t":"2025-08-29T12:59","p":1014.15},{"t":"2025-08-29T13:46","p":1013.97},{"t":"2025-08-29T14:43","p":1013.79},{"t":"2025-08-29T15:23","p":1013.48},{"t":"2025-08-29T16:03","p":1013.25},{"t":"2025-08-29T17:00","p":1013.21},{"t":"2025-08-29T17:46","p":1012.94},{"t":"2025-08-29T18:32","p":1012.27},{"t":"2025-08-29T19:29","p":1012.05},{"t":"2025-08-29T20:26","p":1011.91},{"t":"2025-08-29T21:23","p":1011.55},{"t":"2025-08-29T22:04","p":1011.37},{"t":"2025-08-29T22:44","p":1011.1},{"t":"2025-08-29T23:29","p":1010.79},
{"t":"2025-08-30T00:26","p":1010.7},{"t":"2025-08-30T01:13","p":1010.61},{"t":"2025-08-30T01:53","p":1010.52},{"t":"2025-08-30T02:32","p":1010.39},{"t":"2025-08-30T03:07","p":1010.88},{"t":"2025-08-30T04:04","p":1010.97},{"t":"2025-08-30T05:02","p":1011.24},{"t":"2025-08-30T05:41","p":1011.51},{"t":"2025-08-30T06:39","p":1011.82},{"t":"2025-08-30T07:36","p":1011.64},{"t":"2025-08-30T08:34","p":1011.78},{"t":"2025-08-30T09:31","p":1011.87},{"t":"2025-08-30T10:28","p":1011.55},{"t":"2025-08-30T11:25","p":1011.69},{"t":"2025-08-30T11:54","p":1011.96},{"t":"2025-08-30T12:50","p":1012.36},{"t":"2025-08-30T13:36","p":1012.74},{"t":"2025-08-30T14:16","p":1013.3},{"t":"2025-08-30T14:56","p":1013.77},{"t":"2025-08-30T15:42","p":1014.15},{"t":"2025-08-30T16:28","p":1014.8},{"t":"2025-08-30T17:08","p":1015.37},{"t":"2025-08-30T17:48","p":1015.6},{"t":"2025-08-30T18:45","p":1015.65},{"t":"2025-08-30T19:43","p":1015.74},{"t":"2025-08-30T20:40","p":1015.83},{"t":"2025-08-30T21:37","p":1015.93},{"t":"2025-08-30T22:34","p":1016.02},{"t":"2025-08-30T23:20","p":1016.3},
{"t":"2025-08-31T00:06","p":1016.73},{"t":"2025-08-31T00:46","p":1016.63},{"t":"2025-08-31T01:26","p":1016.96},{"t":"2025-08-31T02:12","p":1017.43},{"t":"2025-08-31T02:58","p":1018.09},{"t":"2025-08-31T03:38","p":1018.55},{"t":"2025-08-31T04:35","p":1019.21},{"t":"2025-08-31T05:21","p":1019.3},{"t":"2025-08-31T06:12","p":1019.73},{"t":"2025-08-31T06:58","p":1019.82},{"t":"2025-08-31T07:55","p":1019.76},{"t":"2025-08-31T08:53","p":1019.73},{"t":"2025-08-31T10:01","p":1019.73},{"t":"2025-08-31T10:47","p":1019.63},{"t":"2025-08-31T11:33","p":1019.4},{"t":"2025-08-31T12:13","p":1019.3},{"t":"2025-08-31T12:53","p":1019.49},{"t":"2025-08-31T13:39","p":1019.63},{"t":"2025-08-31T14:25","p":1019.77},{"t":"2025-08-31T15:05","p":1019.96},{"t":"2025-08-31T15:45","p":1020.43},{"t":"2025-08-31T16:31","p":1021.18},{"t":"2025-08-31T17:28","p":1021.46},{"t":"2025-08-31T18:14","p":1021.74},{"t":"2025-08-31T18:54","p":1022.16},{"t":"2025-08-31T19:51","p":1022.03},{"t":"2025-08-31T20:31","p":1021.98},{"t":"2025-08-31T21:17","p":1022.16},{"t":"2025-08-31T22:03","p":1021.93},{"t":"2025-08-31T23:00","p":1022.07},{"t":"2025-08-31T23:40","p":1021.98},
{"t":"2025-09-01T00:20","p":1022.16},{"t":"2025-09-01T01:06","p":1022.26},{"t":"2025-09-01T01:52","p":1022.49},{"t":"2025-09-01T02:32","p":1022.77},{"t":"2025-09-01T03:29","p":1023.29},{"t":"2025-09-01T04:26","p":1023.48},{"t":"2025-09-01T05:23","p":1023.85},{"t":"2025-09-01T06:04","p":1024.13},{"t":"2025-09-01T06:50","p":1024.51},{"t":"2025-09-01T07:29","p":1024.86},{"t":"2025-09-01T08:16","p":1024.93},{"t":"2025-09-01T09:13","p":1024.93},{"t":"2025-09-01T09:53","p":1024.42},{"t":"2025-09-01T10:38","p":1024.32},{"t":"2025-09-01T11:25","p":1023.95},{"t":"2025-09-01T12:22","p":1023.67},{"t":"2025-09-01T13:19","p":1023.48},{"t":"2025-09-01T14:16","p":1023.29},{"t":"2025-09-01T14:56","p":1023.15},{"t":"2025-09-01T15:36","p":1022.96},{"t":"2025-09-01T16:34","p":1023.01},{"t":"2025-09-01T17:31","p":1023.06},{"t":"2025-09-01T18:17","p":1023.1},{"t":"2025-09-01T19:14","p":1022.96},{"t":"2025-09-01T20:11","p":1022.92},{"t":"2025-09-01T21:08","p":1022.77},{"t":"2025-09-01T22:05","p":1022.45},{"t":"2025-09-01T22:52","p":1022.12},{"t":"2025-09-01T23:49","p":1021.84},
{"t":"2025-09-02T00:29","p":1021.56},{"t":"2025-09-02T01:09","p":1021.37},{"t":"2025-09-02T02:06","p":1021.51},{"t":"2025-09-02T03:04","p":1021.56},{"t":"2025-09-02T04:01","p":1021.42},{"t":"2025-09-02T04:58","p":1021.23},{"t":"2025-09-02T05:55","p":1021.18},{"t":"2025-09-02T06:41","p":1021.09},{"t":"2025-09-02T07:26","p":1021.37},{"t":"2025-09-02T08:07","p":1021.09},{"t":"2025-09-02T08:47","p":1020.71},{"t":"2025-09-02T09:32","p":1020.24},{"t":"2025-09-02T10:18","p":1019.77},{"t":"2025-09-02T11:16","p":1019.4},{"t":"2025-09-02T11:56","p":1019.02},{"t":"2025-09-02T12:53","p":1018.55},{"t":"2025-09-02T13:50","p":1018.09},{"t":"2025-09-02T14:47","p":1017.76},{"t":"2025-09-02T15:44","p":1017.62},{"t":"2025-09-02T16:42","p":1017.43},{"t":"2025-09-02T17:56","p":1017.38},{"t":"2025-09-02T18:53","p":1016.96},{"t":"2025-09-02T19:51","p":1016.73},{"t":"2025-09-02T20:48","p":1016.4},{"t":"2025-09-02T21:57","p":1016.35},{"t":"2025-09-02T22:54","p":1016.07},{"t":"2025-09-02T23:52","p":1015.74},
{"t":"2025-09-03T00:37","p":1015.55},{"t":"2025-09-03T01:17","p":1015.41},{"t":"2025-09-03T02:14","p":1015.04},{"t":"2025-09-03T02:55","p":1014.71},{"t":"2025-09-03T03:40","p":1014.8},{"t":"2025-09-03T04:38","p":1014.9},{"t":"2025-09-03T05:23","p":1014.61},{"t":"2025-09-03T06:21","p":1014.66},{"t":"2025-09-03T07:18","p":1014.85},{"t":"2025-09-03T08:16","p":1014.71},{"t":"2025-09-03T09:13","p":1014.57},{"t":"2025-09-03T10:10","p":1014.1},{"t":"2025-09-03T11:07","p":1013.91},{"t":"2025-09-03T11:47","p":1013.44},{"t":"2025-09-03T12:27","p":1013.02},{"t":"2025-09-03T13:13","p":1012.55},{"t":"2025-09-03T14:10","p":1012.08},{"t":"2025-09-03T15:08","p":1011.94},{"t":"2025-09-03T16:05","p":1011.99},{"t":"2025-09-03T17:02","p":1012.04},{"t":"2025-09-03T17:59","p":1011.99},{"t":"2025-09-03T18:57","p":1011.94},{"t":"2025-09-03T19:43","p":1011.8},{"t":"2025-09-03T20:23","p":1011.9},{"t":"2025-09-03T21:08","p":1012.13},{"t":"2025-09-03T22:00","p":1011.99},{"t":"2025-09-03T22:57","p":1012.13},{"t":"2025-09-03T23:55","p":1012.27},
{"t":"2025-09-04T01:09","p":1012.22},{"t":"2025-09-04T02:23","p":1012.18},{"t":"2025-09-04T03:32","p":1012.08},{"t":"2025-09-04T04:29","p":1012.32},{"t":"2025-09-04T05:26","p":1012.55},{"t":"2025-09-04T06:23","p":1012.93},{"t":"2025-09-04T07:21","p":1013.16},{"t":"2025-09-04T08:18","p":1013.4},{"t":"2025-09-04T08:58","p":1013.54},{"t":"2025-09-04T09:44","p":1013.44},{"t":"2025-09-04T10:41","p":1013.4},{"t":"2025-09-04T11:38","p":1013.35},{"t":"2025-09-04T12:19","p":1013.07},{"t":"2025-09-04T13:04","p":1013.26},{"t":"2025-09-04T13:50","p":1012.88},{"t":"2025-09-04T14:31","p":1012.65},{"t":"2025-09-04T15:10","p":1012.23},{"t":"2025-09-04T15:56","p":1012.08},{"t":"2025-09-04T16:53","p":1012.13},{"t":"2025-09-04T17:51","p":1012.04},{"t":"2025-09-04T18:48","p":1012.13},{"t":"2025-09-04T19:34","p":1012.27},{"t":"2025-09-04T20:14","p":1012.51},{"t":"2025-09-04T20:54","p":1012.83},{"t":"2025-09-04T21:28","p":1012.97},{"t":"2025-09-04T22:08","p":1012.83},{"t":"2025-09-04T22:49","p":1012.88},{"t":"2025-09-04T23:23","p":1012.88},{"t":"2025-09-04T23:46","p":1012.83}
 ]},
 "mark": {"type": "line", "color": "#0072BD", "strokeWidth": 1.5},
 "encoding": {
  "x": {
   "field": "t", "type": "temporal",
   "scale": {"domain": [{"year": 2025, "month": "Jul", "date": 30}, {"year": 2025, "month": "Sep", "date": 5}], "nice": false},
   "axis": {
    "title": null, "grid": false,
    "values": [{"year": 2025, "month": "Jul", "date": 30}, {"year": 2025, "month": "Aug", "date": 5, "hours": 4}, {"year": 2025, "month": "Aug", "date": 11, "hours": 8}, {"year": 2025, "month": "Aug", "date": 17, "hours": 12}, {"year": 2025, "month": "Aug", "date": 23, "hours": 16}, {"year": 2025, "month": "Aug", "date": 29, "hours": 20}, {"year": 2025, "month": "Sep", "date": 5}],
    "labelExpr": "[timeFormat(timeOffset('hours', datum.value, 12), '%d %b'), '\\u200b\\u00a0\\u00a0\\u00a02025']",
    "tickSize": -31, "tickWidth": 1, "tickColor": "#262626",
    "domainColor": "#262626", "domainWidth": 1,
    "labelFont": "DejaVu Sans Mono", "labelFontSize": 21, "labelColor": "#262626",
    "labelAlign": "left", "labelBaseline": "top", "labelOffset": -47, "labelPadding": 39, "labelLineHeight": 29,
    "labelFlush": false, "labelOverlap": false, "labelBound": false
   }
  },
  "y": {
   "field": "p", "type": "quantitative",
   "scale": {"domain": [1005, 1035], "nice": false, "zero": false},
   "axis": {
    "title": "millibars", "grid": false,
    "values": [1005, 1010, 1015, 1020, 1025, 1030, 1035], "format": "d",
    "tickSize": -31, "tickWidth": 1, "tickColor": "#262626",
    "domainColor": "#262626", "domainWidth": 1,
    "labelFont": "DejaVu Sans Mono", "labelFontSize": 21, "labelColor": "#262626", "labelPadding": 37,
    "labelFlush": false, "labelOverlap": false, "labelBound": false,
    "titleFont": "DejaVu Sans Mono", "titleFontSize": 41, "titleFontWeight": "normal", "titleColor": "#262626",
    "titleX": -69, "titleY": 918, "titleAngle": -90, "titleBaseline": "alphabetic", "titleAlign": "center"
   }
  }
 }
}
